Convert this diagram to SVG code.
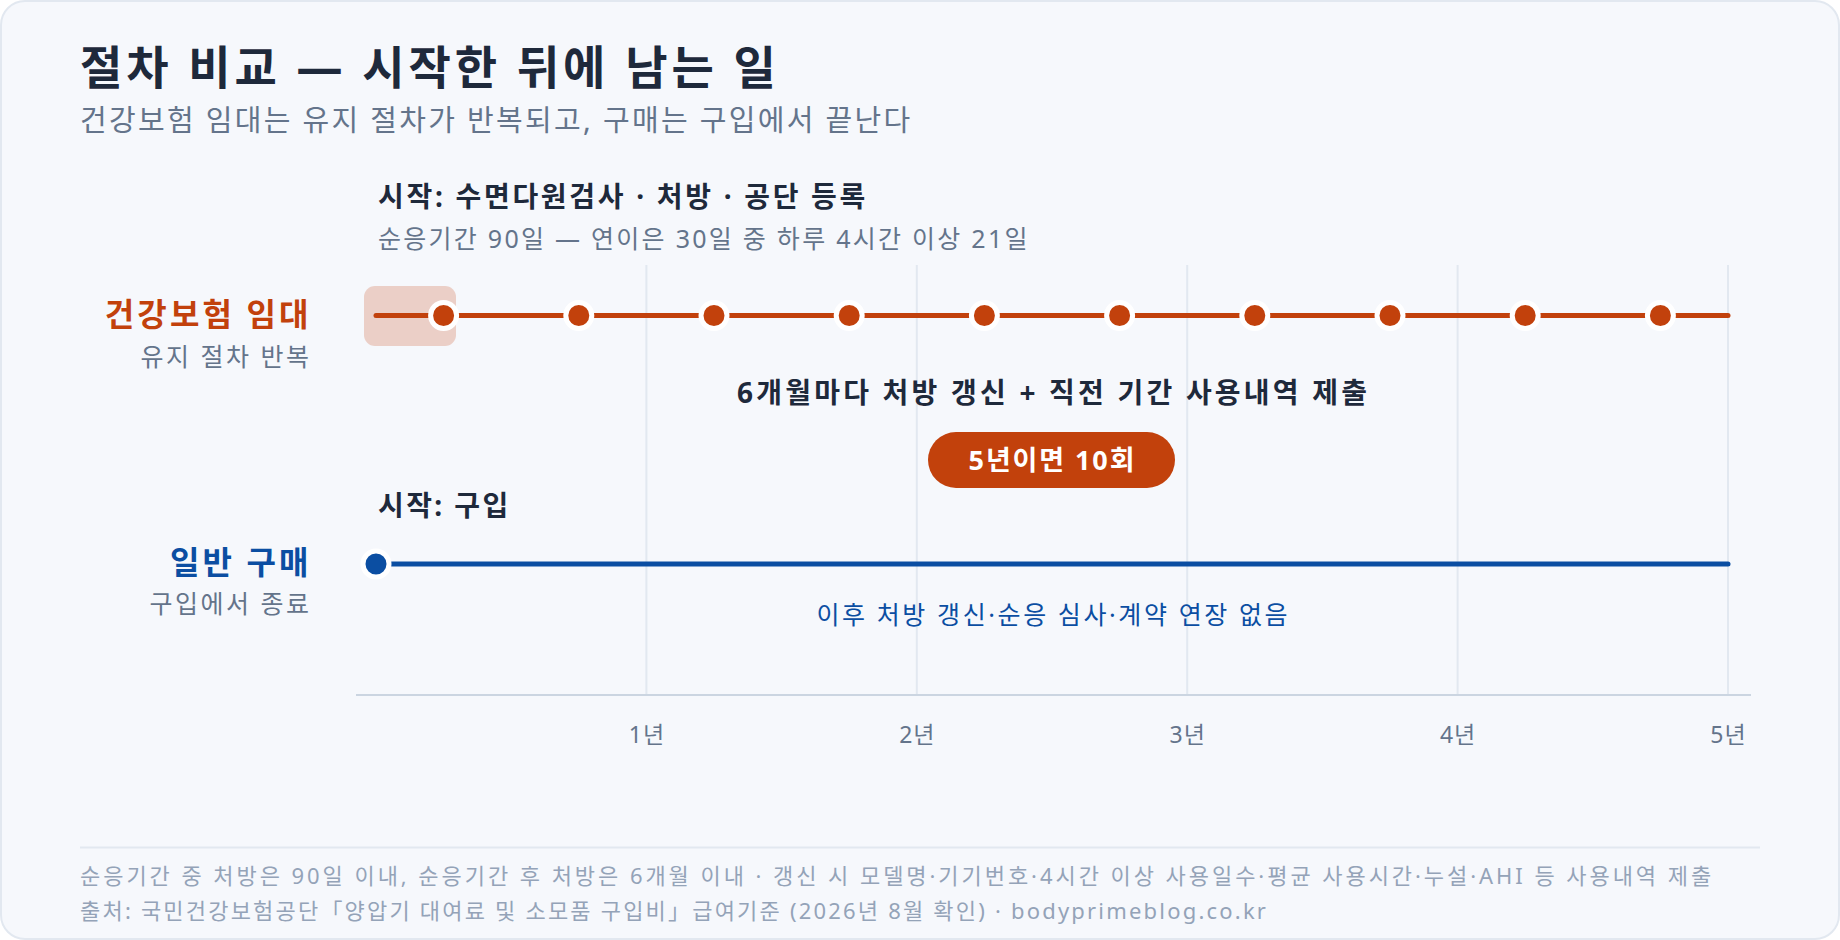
<svg xmlns="http://www.w3.org/2000/svg" width="1840" height="940" viewBox="0 0 1840 940">
<style>
text{font-family:"Noto Sans","Noto Sans CJK KR",sans-serif}
.title{font-size:46px;font-weight:700;fill:#1e293b;letter-spacing:3.9px}
.sub{font-size:29px;fill:#64748b;letter-spacing:2.3px}
.lbl{font-size:32px;font-weight:700;text-anchor:end;letter-spacing:3.1px}
.sl{font-size:25px;fill:#64748b;text-anchor:end;letter-spacing:2.5px}
.st{font-size:28px;font-weight:700;fill:#1e293b}
.note{font-size:25px;fill:#64748b;letter-spacing:2.27px}
.ax{font-size:23px;fill:#64748b;text-anchor:middle;letter-spacing:1px}
.foot{font-size:22px;fill:#94a3b8}
.grid{stroke:#e2e8f0;stroke-width:2}
.od{fill:#c2410c;stroke:#ffffff;stroke-width:5}
.bd{fill:#0b4ea2;stroke:#ffffff;stroke-width:5}
</style>
<rect x="1" y="1" width="1838" height="938" rx="24" fill="#f6f8fc" stroke="#e2e8f0" stroke-width="2"/>
<g id="header">
<text class="title" x="80" y="84">절차 비교 — 시작한 뒤에 남는 일</text>
<text class="sub" x="80" y="131">건강보험 임대는 유지 절차가 반복되고, 구매는 구입에서 끝난다</text>
</g>
<g id="grid">
<line class="grid" x1="646.4" y1="265" x2="646.4" y2="695"/>
<line class="grid" x1="916.8" y1="265" x2="916.8" y2="695"/>
<line class="grid" x1="1187.2" y1="265" x2="1187.2" y2="695"/>
<line class="grid" x1="1457.6" y1="265" x2="1457.6" y2="695"/>
<line class="grid" x1="1728" y1="265" x2="1728" y2="695"/>
<line x1="356" y1="695" x2="1751" y2="695" stroke="#cbd5e1" stroke-width="2"/>
<text class="ax" x="647" y="743">1년</text>
<text class="ax" x="917.3" y="743">2년</text>
<text class="ax" x="1187.7" y="743">3년</text>
<text class="ax" x="1458.1" y="743">4년</text>
<text class="ax" x="1728.5" y="743">5년</text>
</g>
<g id="rental-start">
<text class="st" x="378" y="207" letter-spacing="2.7">시작: 수면다원검사 · 처방 · 공단 등록</text>
<text class="note" x="378" y="248">순응기간 90일 — 연이은 30일 중 하루 4시간 이상 21일</text>
<rect x="364" y="286" width="92" height="60" rx="11" fill="#c2410c" fill-opacity="0.22"/>
</g>
<g id="rental-label">
<text class="lbl" x="311.5" y="326" fill="#c2410c">건강보험 임대</text>
<text class="sl" x="311.5" y="366">유지 절차 반복</text>
</g>
<g id="purchase-label">
<text class="lbl" x="311.5" y="574" fill="#0b4ea2">일반 구매</text>
<text class="sl" x="311.5" y="613">구입에서 종료</text>
</g>
<g id="connectors">
<line x1="376" y1="315.5" x2="1728" y2="315.5" stroke="#c2410c" stroke-width="5" stroke-linecap="round"/>
<line x1="376" y1="564" x2="1728" y2="564" stroke="#0b4ea2" stroke-width="5" stroke-linecap="round"/>
</g>
<g id="renewals">
<circle class="od" cx="443.6" cy="315.5" r="13"/>
<circle class="od" cx="578.8" cy="315.5" r="13"/>
<circle class="od" cx="714" cy="315.5" r="13"/>
<circle class="od" cx="849.2" cy="315.5" r="13"/>
<circle class="od" cx="984.4" cy="315.5" r="13"/>
<circle class="od" cx="1119.6" cy="315.5" r="13"/>
<circle class="od" cx="1254.8" cy="315.5" r="13"/>
<circle class="od" cx="1390" cy="315.5" r="13"/>
<circle class="od" cx="1525.2" cy="315.5" r="13"/>
<circle class="od" cx="1660.4" cy="315.5" r="13"/>
</g>
<g id="rental-note">
<text class="st" x="1053.6" y="403" text-anchor="middle" letter-spacing="3.2">6개월마다 처방 갱신 + 직전 기간 사용내역 제출</text>
<rect x="928" y="432" width="247" height="56" rx="28" fill="#c2410c"/>
<text x="1052.5" y="470" text-anchor="middle" font-size="27" font-weight="700" fill="#ffffff" letter-spacing="1.9">5년이면 10회</text>
</g>
<g id="purchase">
<text class="st" x="378" y="516" letter-spacing="2.4">시작: 구입</text>
<circle class="bd" cx="376" cy="564" r="13"/>
<text x="1053.3" y="624" text-anchor="middle" font-size="25" fill="#0b4ea2" letter-spacing="2.6">이후 처방 갱신·순응 심사·계약 연장 없음</text>
</g>
<g id="footer">
<line x1="80" y1="847.5" x2="1760" y2="847.5" stroke="#e2e8f0" stroke-width="2"/>
<text class="foot" x="80" y="884" letter-spacing="2.95">순응기간 중 처방은 90일 이내, 순응기간 후 처방은 6개월 이내 · 갱신 시 모델명·기기번호·4시간 이상 사용일수·평균 사용시간·누설·AHI 등 사용내역 제출</text>
<text class="foot" x="80" y="919" letter-spacing="2.2">출처: 국민건강보험공단「양압기 대여료 및 소모품 구입비」급여기준 (2026년 8월 확인) · bodyprimeblog.co.kr</text>
</g>
</svg>
